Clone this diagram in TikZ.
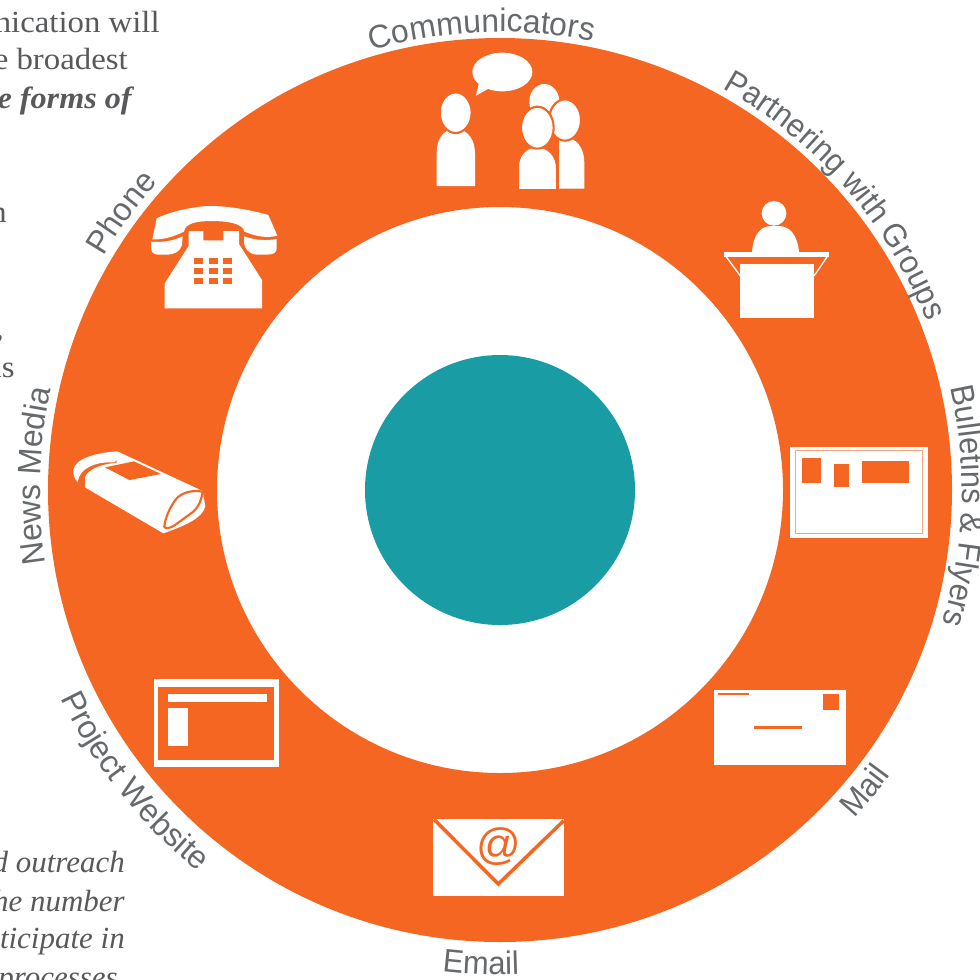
\documentclass[tikz,border=0pt]{standalone}
\usepackage{fontspec}
\usetikzlibrary{decorations.text}
\newfontfamily\lblfam[FakeStretch=0.98]{Liberation Sans}
\newfontfamily\lblfamN[FakeStretch=0.95]{Liberation Sans}
\newfontfamily\atfam{Liberation Sans}
\newfontfamily\bodyfam[FakeStretch=1.07]{Liberation Serif}
\newfontfamily\bodyfamI[FakeStretch=1.01]{Liberation Serif}
\newfontfamily\bodyfamB[FakeStretch=1.05]{Liberation Serif}
\definecolor{ringorange}{HTML}{F46622}
\definecolor{hubteal}{HTML}{1A9CA4}
\definecolor{lblgray}{HTML}{676A6C}
\definecolor{bodygray}{HTML}{58595B}
\definecolor{thinline}{HTML}{F8A47C}
\newcommand\lblfont{\lblfam\fontsize{24.4pt}{28pt}\selectfont}
\newcommand\lblfontN{\lblfamN\fontsize{24.4pt}{28pt}\selectfont}
\newcommand\ringlabel[5][\lblfont]{\path[decorate,decoration={text along path,text color=lblgray,text={|#1|#5},text align=center}] ({#2+#3}:#4) arc[start angle={#2+#3},end angle={#2-#3},radius=#4];}
\tikzset{
  wf/.style={fill=white,draw=none},
  of/.style={fill=ringorange,draw=none},
  headring/.style={fill=white,draw=ringorange,line width=1.6pt},
  bodytext/.style={anchor=base east,inner sep=0pt,text=bodygray,font=\bodyfam\fontsize{23pt}{26pt}\selectfont},
  bodyital/.style={bodytext,font=\bodyfamI\itshape\fontsize{23pt}{26pt}\selectfont},
  bodybold/.style={bodytext,font=\bodyfamB\bfseries\itshape\fontsize{23pt}{26pt}\selectfont},
  zoomed/.style={shift={(#1)},scale=1/3}
}
\begin{document}
\begin{tikzpicture}[x=0.75pt,y=-0.75pt]
\useasboundingbox (0,0) rectangle (980,979);
\clip (0,0) rectangle (980,979);
\fill[white] (0,0) rectangle (980,979);
% clipped body text of the page behind
\node[bodytext] (t1) at (160,32) {nication will};
\node[bodytext] (t2) at (128,69) {e broadest};
\node[bodybold] (t3) at (132,108) {e forms of};
\node[bodytext] (t4) at (7,222) {n};
\node[bodytext] (t5) at (4,338) {,};
\node[bodytext] (t6) at (15,377) {is};
\node[bodyital] (t7) at (125,872) {d outreach};
\node[bodyital] (t8) at (125,911) {he number};
\node[bodyital] (t9) at (125,948) {rticipate in};
\node[bodyital] (t10) at (118,987) {processes};
% ring and hub
\begin{scope}[shift={(500,490)},x=0.75pt,y=0.75pt]
\fill[ringorange,even odd rule] (0,0) circle[radius=452] (0,0) circle[radius=283];
\fill[hubteal] (0,0) circle[radius=135];
\ringlabel{92.3}{60}{458}{Communicators}
\ringlabel[\lblfontN]{41.3}{40}{459}{Partnering with Groups}
\ringlabel[\lblfontN]{-2}{40}{462}{Bulletins {\&} Flyers}
\ringlabel[\lblfontN]{-39.5}{-20}{483}{Mail}
\ringlabel[\lblfontN]{-92.3}{-20}{485}{Email}
\ringlabel{218.5}{-30}{486}{Project Website}
\ringlabel{143.8}{25}{460}{Phone}
\ringlabel{178.3}{30}{460}{News Media}
\end{scope}
% communicators
\begin{scope}[zoomed={400,30}]
\fill[wf] (307,126) ellipse[x radius=90,y radius=58];
\fill[wf] (228,197) -- (237,158) -- (265,176) -- cycle;
\fill[wf] (110,468) -- (110,370) .. controls (110,330) and (125,300) .. (167,295) .. controls (205,300) and (225,330) .. (225,370) -- (225,468) -- cycle;
\path[headring] (167,248) ellipse[x radius=48,y radius=61];
\fill[wf] (433,215) ellipse[x radius=45,y radius=53];
\fill[wf] (477,476) -- (477,320) -- (510,325) .. controls (540,335) and (553,365) .. (553,400) -- (553,476) -- cycle;
\path[headring] (495,270) ellipse[x radius=48,y radius=62];
\path[fill=white,draw=ringorange,line width=2pt] (353,482) -- (353,410) .. controls (353,375) and (375,350) .. (410,348) .. controls (450,350) and (472,380) .. (472,415) -- (472,482);
\fill[ringorange] (345,477) rectangle (480,490);
\path[headring] (412,293) ellipse[x radius=49,y radius=63];
\end{scope}
% podium
\begin{scope}[zoomed={700,190}]
\fill[wf] (222,70) circle[radius=37];
\fill[wf] (156,186) .. controls (160,135) and (180,108) .. (215,108) -- (235,108) .. controls (270,108) and (292,135) .. (297,186) -- cycle;
\fill[wf] (73,186) rectangle (387,201);
\fill[wf] (121,222) rectangle (342,384);
\draw[white,line width=1pt] (75,195) -- (121,258) (385,195) -- (342,258);
\end{scope}
% bulletins
\begin{scope}[zoomed={700,190}]
\fill[wf] (270,770) rectangle (683,1044);
\draw[thinline,line width=1pt] (286,782) rectangle (668,1030);
\fill[of] (306,805) rectangle (363,880);
\fill[of] (402,821) rectangle (446,892);
\fill[of] (485,814) rectangle (627,880);
\end{scope}
% phone
\begin{scope}[zoomed={60,190}]
\fill[wf] (277,148) -- (290,85) .. controls (340,60) and (420,48) .. (450,48) .. controls (510,48) and (580,62) .. (625,75) -- (652,137) .. controls (620,145) and (590,140) .. (553,125) .. controls (550,100) and (500,93) .. (455,93) .. controls (410,93) and (375,100) .. (372,125) .. controls (340,140) and (310,150) .. (277,148) -- cycle;
\fill[wf] (273,155) .. controls (310,158) and (340,152) .. (368,139) -- (366,165) .. controls (360,185) and (345,193) .. (320,194) -- (295,194) .. controls (280,194) and (273,185) .. (273,175) -- cycle;
\fill[wf] (552,139) .. controls (590,152) and (620,152) .. (650,147) -- (650,175) .. controls (650,188) and (640,194) .. (620,194) -- (590,194) .. controls (565,192) and (555,175) .. (552,160) -- cycle;
\fill[wf] (386,123) -- (430,123) -- (430,151) -- (490,151) -- (490,123) -- (537,123) -- (537,162) -- (606,270) -- (606,355) -- (314,355) -- (314,280) -- (386,168) -- cycle;
\foreach \kx in {402,447,489}{\foreach \ky in {204,234,264}{\fill[of] (\kx,\ky) rectangle ++(27,17);}}
\end{scope}
% newspaper
\begin{scope}[zoomed={60,190}]
\fill[wf] (172,784) .. controls (110,788) and (45,805) .. (40,840) .. controls (39,855) and (45,870) .. (53,876) .. controls (58,835) and (105,815) .. (160,817) .. controls (175,815) and (178,795) .. (172,784) -- cycle;
\fill[wf] (172,784) -- (428,903) -- (436,950) .. controls (425,985) and (380,1005) .. (310,1030) -- (75,892) -- (75,862) .. controls (85,835) and (130,822) .. (170,818) -- cycle;
\fill[of] (135,832) -- (222,814) -- (303,852) -- (208,870) -- cycle;
\path[fill=white,draw=ringorange,line width=1.6pt] (428,905) .. controls (400,900) and (370,905) .. (350,925) .. controls (330,950) and (315,985) .. (313,1010) .. controls (315,1018) and (330,1015) .. (345,1005) -- (400,965) .. controls (420,945) and (425,925) .. (428,905) -- cycle;
\end{scope}
% website
\begin{scope}[zoomed={0,670}]
\fill[wf] (462,28) rectangle (838,290);
\fill[of] (474,51) rectangle (822,270);
\fill[wf] (504,72) rectangle (801,96);
\fill[wf] (504,114) rectangle (564,228);
\end{scope}
% mail and email
\begin{scope}[zoomed={420,680}]
\fill[wf] (882,30) rectangle (1278,255);
\fill[of] (894,39) rectangle (987,45);
\fill[of] (1208,42) rectangle (1257,90);
\fill[of] (1002,138) rectangle (1146,147);
\fill[wf] (38,418) rectangle (431,648);
\draw[ringorange,line width=2.6pt] (42,418) -- (235,612) -- (431,422);
\node[inner sep=0pt,text=ringorange,font=\atfam\fontsize{33pt}{36pt}\selectfont] (at) at (235,501) {@};
\end{scope}
\end{tikzpicture}
\end{document}
